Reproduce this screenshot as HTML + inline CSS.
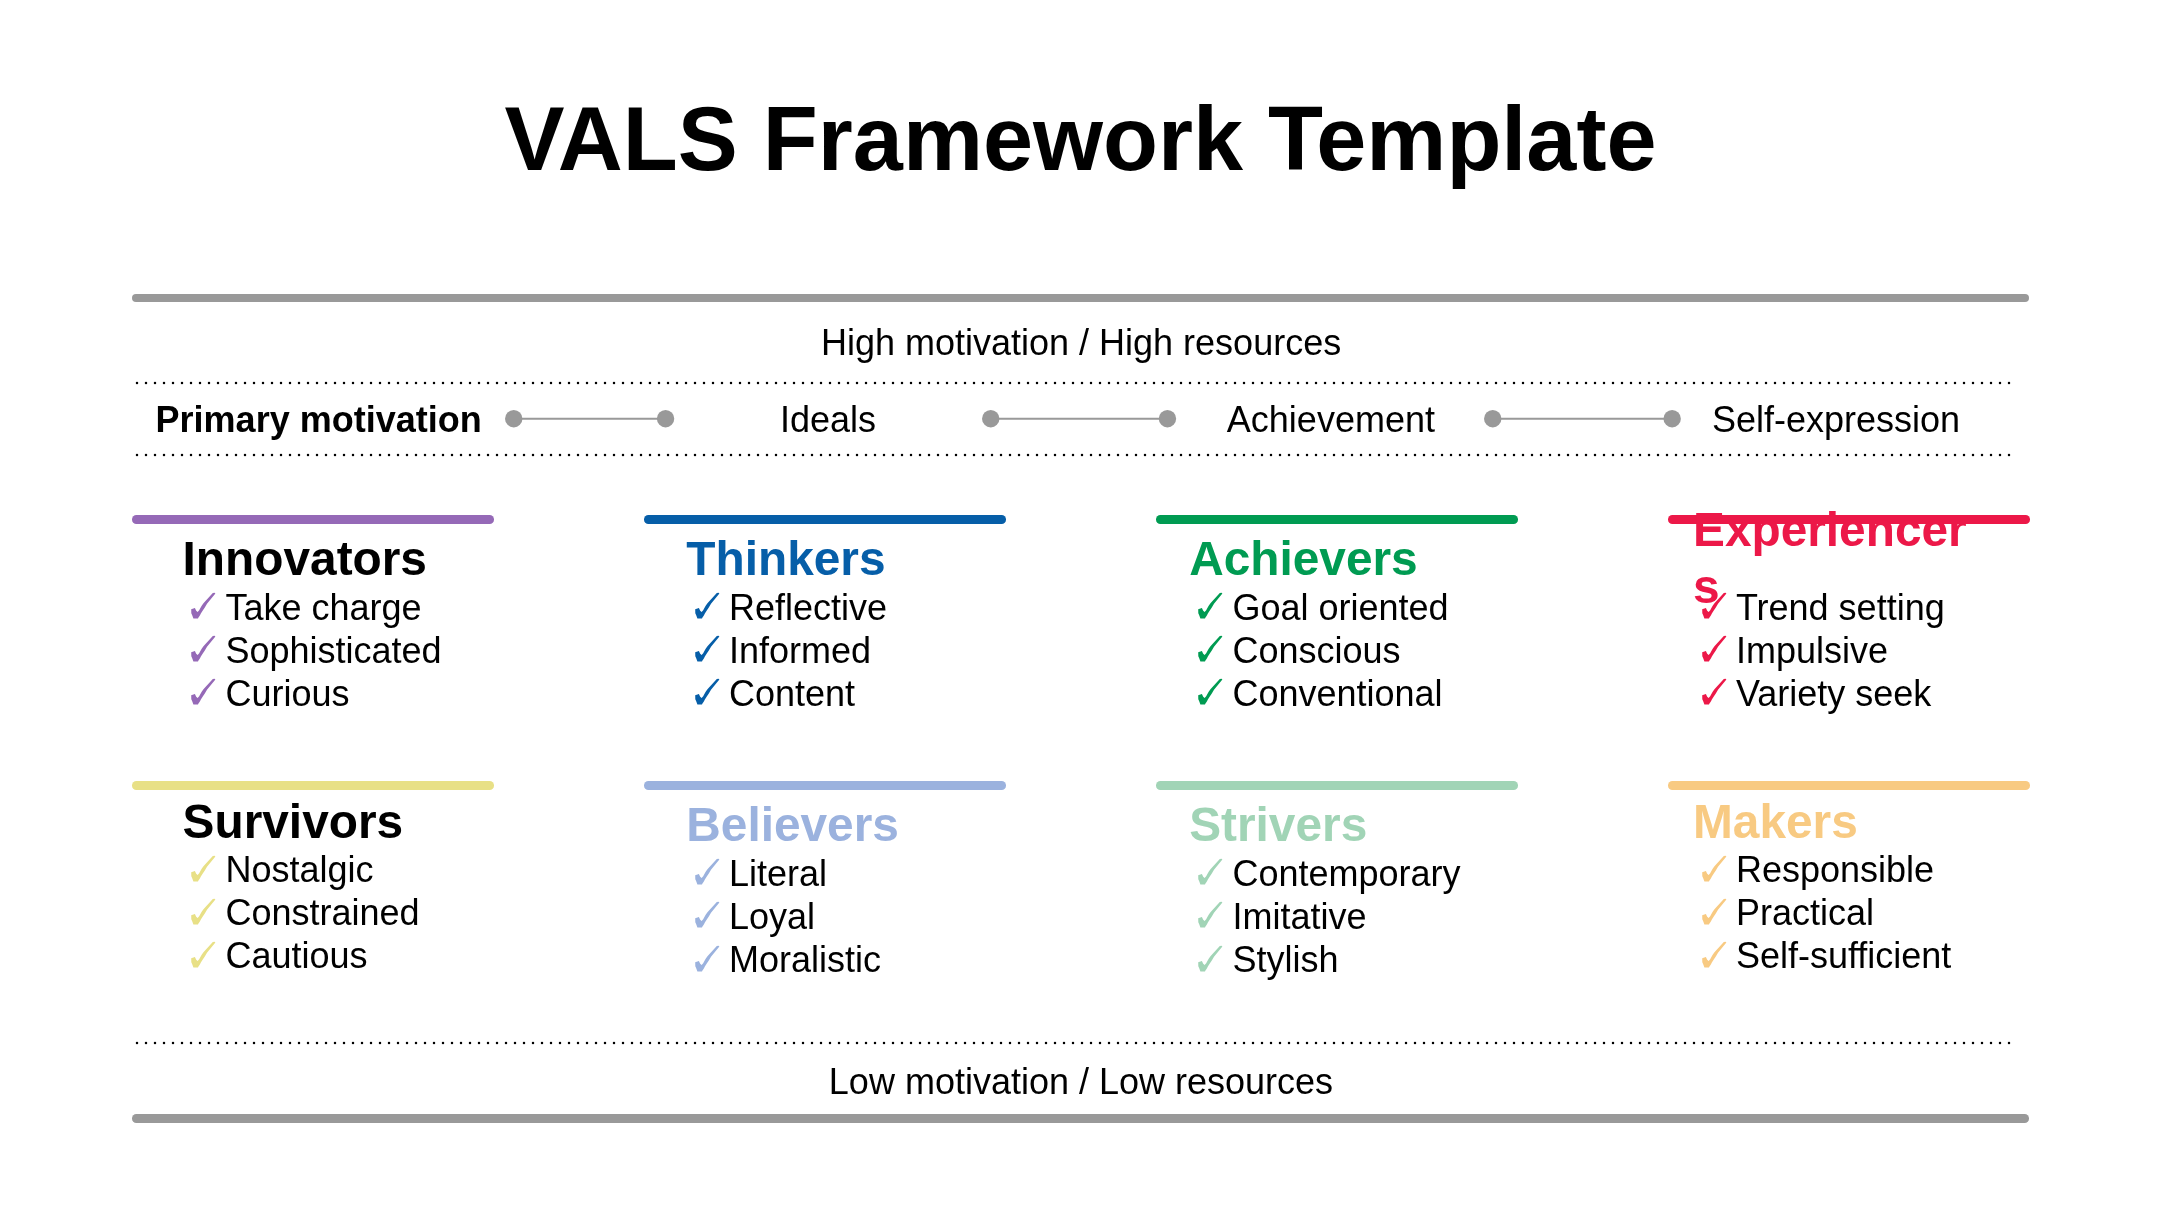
<!DOCTYPE html>
<html><head><meta charset="utf-8"><title>VALS Framework Template</title>
<style>
html,body{margin:0;padding:0;background:#fff;}
body{width:2160px;height:1215px;position:relative;overflow:hidden;font-family:"Liberation Sans",sans-serif;}
#wrap{position:absolute;left:0;top:0;width:2160px;height:1215px;will-change:transform;}
.t{position:absolute;white-space:nowrap;}
.bar,.abs{position:absolute;}
svg.abs{overflow:visible;}
</style></head><body><div id="wrap">
<div class="t" style="left:504.48px;top:94px;font-size:90px;line-height:90px;font-weight:700;color:#000">VALS Framework Template</div>
<div class="bar" style="left:132.00px;top:293.60px;width:1897.00px;height:8.6px;border-radius:4.3px;background:#999999"></div>
<div class="t" style="left:820.95px;top:325px;font-size:36px;line-height:36px;font-weight:400;color:#000">High motivation / High resources</div>
<svg class="abs" style="left:132.40px;top:377.67px" width="1891.0" height="10" viewBox="0 0 1891.0 10"><line x1="5" y1="5" x2="1886.00" y2="5" stroke="#000" stroke-width="2.5" stroke-linecap="round" stroke-dasharray="0 9.0"/></svg>
<div class="t" style="left:155.59px;top:402px;font-size:36px;line-height:36px;font-weight:700;color:#000">Primary motivation</div>
<svg class="abs" style="left:503.70px;top:409.05px" width="171.30" height="19.40" viewBox="0 0 171.30 19.40"><line x1="9.7" y1="9.7" x2="161.60" y2="9.7" stroke="#999" stroke-width="1.9"/><circle cx="9.7" cy="9.7" r="8.7" fill="#999"/><circle cx="161.60" cy="9.7" r="8.7" fill="#999"/></svg>
<div class="t" style="left:779.88px;top:402px;font-size:36px;line-height:36px;font-weight:400;color:#000">Ideals</div>
<svg class="abs" style="left:981.20px;top:409.05px" width="196.20" height="19.40" viewBox="0 0 196.20 19.40"><line x1="9.7" y1="9.7" x2="186.50" y2="9.7" stroke="#999" stroke-width="1.9"/><circle cx="9.7" cy="9.7" r="8.7" fill="#999"/><circle cx="186.50" cy="9.7" r="8.7" fill="#999"/></svg>
<div class="t" style="left:1226.83px;top:402px;font-size:36px;line-height:36px;font-weight:400;color:#000">Achievement</div>
<svg class="abs" style="left:1483.40px;top:409.05px" width="198.90" height="19.40" viewBox="0 0 198.90 19.40"><line x1="9.7" y1="9.7" x2="189.20" y2="9.7" stroke="#999" stroke-width="1.9"/><circle cx="9.7" cy="9.7" r="8.7" fill="#999"/><circle cx="189.20" cy="9.7" r="8.7" fill="#999"/></svg>
<div class="t" style="left:1711.97px;top:402px;font-size:36px;line-height:36px;font-weight:400;color:#000">Self-expression</div>
<svg class="abs" style="left:132.40px;top:449.80px" width="1891.0" height="10" viewBox="0 0 1891.0 10"><line x1="5" y1="5" x2="1886.00" y2="5" stroke="#000" stroke-width="2.5" stroke-linecap="round" stroke-dasharray="0 9.0"/></svg>
<div class="bar" style="left:132.00px;top:514.90px;width:362.00px;height:8.7px;border-radius:4.35px;background:#9569B7"></div>
<div class="t" style="left:182.60px;top:535px;font-size:47.8px;line-height:47.8px;font-weight:700;color:#000">Innovators</div>
<svg class="abs" style="left:186.20px;top:590.05px" width="32" height="32" viewBox="0 0 32 32"><polygon points="5.2,19.25 8.9,18.1 10.2,20.8 11.6,22.0 13.2,20.2 14.1,18.5 15.85,15.6 17.45,13.2 26.8,3.0 28.6,2.7 29.4,3.5 21.0,13.75 18.8,17.4 16.95,20.25 15.0,23.15 13.85,25.45 12.3,27.75 12.0,28.55 7.4,28.55 6.3,25.45 5.3,23.15" fill="#9569B7"/></svg>
<div class="t" style="left:225.50px;top:590px;font-size:36px;line-height:36px;font-weight:400;color:#000">Take charge</div>
<svg class="abs" style="left:186.20px;top:633.15px" width="32" height="32" viewBox="0 0 32 32"><polygon points="5.2,19.25 8.9,18.1 10.2,20.8 11.6,22.0 13.2,20.2 14.1,18.5 15.85,15.6 17.45,13.2 26.8,3.0 28.6,2.7 29.4,3.5 21.0,13.75 18.8,17.4 16.95,20.25 15.0,23.15 13.85,25.45 12.3,27.75 12.0,28.55 7.4,28.55 6.3,25.45 5.3,23.15" fill="#9569B7"/></svg>
<div class="t" style="left:225.50px;top:633px;font-size:36px;line-height:36px;font-weight:400;color:#000">Sophisticated</div>
<svg class="abs" style="left:186.20px;top:676.25px" width="32" height="32" viewBox="0 0 32 32"><polygon points="5.2,19.25 8.9,18.1 10.2,20.8 11.6,22.0 13.2,20.2 14.1,18.5 15.85,15.6 17.45,13.2 26.8,3.0 28.6,2.7 29.4,3.5 21.0,13.75 18.8,17.4 16.95,20.25 15.0,23.15 13.85,25.45 12.3,27.75 12.0,28.55 7.4,28.55 6.3,25.45 5.3,23.15" fill="#9569B7"/></svg>
<div class="t" style="left:225.50px;top:676px;font-size:36px;line-height:36px;font-weight:400;color:#000">Curious</div>
<div class="bar" style="left:644.00px;top:514.90px;width:362.00px;height:8.7px;border-radius:4.35px;background:#065EA8"></div>
<div class="t" style="left:686.30px;top:535px;font-size:47.8px;line-height:47.8px;font-weight:700;color:#065EA8">Thinkers</div>
<svg class="abs" style="left:689.67px;top:590.05px" width="32" height="32" viewBox="0 0 32 32"><polygon points="5.2,19.25 8.9,18.1 10.2,20.8 11.6,22.0 13.2,20.2 14.1,18.5 15.85,15.6 17.45,13.2 26.8,3.0 28.6,2.7 29.4,3.5 21.0,13.75 18.8,17.4 16.95,20.25 15.0,23.15 13.85,25.45 12.3,27.75 12.0,28.55 7.4,28.55 6.3,25.45 5.3,23.15" fill="#065EA8"/></svg>
<div class="t" style="left:728.97px;top:590px;font-size:36px;line-height:36px;font-weight:400;color:#000">Reflective</div>
<svg class="abs" style="left:689.67px;top:633.15px" width="32" height="32" viewBox="0 0 32 32"><polygon points="5.2,19.25 8.9,18.1 10.2,20.8 11.6,22.0 13.2,20.2 14.1,18.5 15.85,15.6 17.45,13.2 26.8,3.0 28.6,2.7 29.4,3.5 21.0,13.75 18.8,17.4 16.95,20.25 15.0,23.15 13.85,25.45 12.3,27.75 12.0,28.55 7.4,28.55 6.3,25.45 5.3,23.15" fill="#065EA8"/></svg>
<div class="t" style="left:728.97px;top:633px;font-size:36px;line-height:36px;font-weight:400;color:#000">Informed</div>
<svg class="abs" style="left:689.67px;top:676.25px" width="32" height="32" viewBox="0 0 32 32"><polygon points="5.2,19.25 8.9,18.1 10.2,20.8 11.6,22.0 13.2,20.2 14.1,18.5 15.85,15.6 17.45,13.2 26.8,3.0 28.6,2.7 29.4,3.5 21.0,13.75 18.8,17.4 16.95,20.25 15.0,23.15 13.85,25.45 12.3,27.75 12.0,28.55 7.4,28.55 6.3,25.45 5.3,23.15" fill="#065EA8"/></svg>
<div class="t" style="left:728.97px;top:676px;font-size:36px;line-height:36px;font-weight:400;color:#000">Content</div>
<div class="bar" style="left:1156.00px;top:514.90px;width:362.00px;height:8.7px;border-radius:4.35px;background:#009B52"></div>
<div class="t" style="left:1189.20px;top:535px;font-size:47.8px;line-height:47.8px;font-weight:700;color:#009B52">Achievers</div>
<svg class="abs" style="left:1193.14px;top:590.05px" width="32" height="32" viewBox="0 0 32 32"><polygon points="5.2,19.25 8.9,18.1 10.2,20.8 11.6,22.0 13.2,20.2 14.1,18.5 15.85,15.6 17.45,13.2 26.8,3.0 28.6,2.7 29.4,3.5 21.0,13.75 18.8,17.4 16.95,20.25 15.0,23.15 13.85,25.45 12.3,27.75 12.0,28.55 7.4,28.55 6.3,25.45 5.3,23.15" fill="#009B52"/></svg>
<div class="t" style="left:1232.44px;top:590px;font-size:36px;line-height:36px;font-weight:400;color:#000">Goal oriented</div>
<svg class="abs" style="left:1193.14px;top:633.15px" width="32" height="32" viewBox="0 0 32 32"><polygon points="5.2,19.25 8.9,18.1 10.2,20.8 11.6,22.0 13.2,20.2 14.1,18.5 15.85,15.6 17.45,13.2 26.8,3.0 28.6,2.7 29.4,3.5 21.0,13.75 18.8,17.4 16.95,20.25 15.0,23.15 13.85,25.45 12.3,27.75 12.0,28.55 7.4,28.55 6.3,25.45 5.3,23.15" fill="#009B52"/></svg>
<div class="t" style="left:1232.44px;top:633px;font-size:36px;line-height:36px;font-weight:400;color:#000">Conscious</div>
<svg class="abs" style="left:1193.14px;top:676.25px" width="32" height="32" viewBox="0 0 32 32"><polygon points="5.2,19.25 8.9,18.1 10.2,20.8 11.6,22.0 13.2,20.2 14.1,18.5 15.85,15.6 17.45,13.2 26.8,3.0 28.6,2.7 29.4,3.5 21.0,13.75 18.8,17.4 16.95,20.25 15.0,23.15 13.85,25.45 12.3,27.75 12.0,28.55 7.4,28.55 6.3,25.45 5.3,23.15" fill="#009B52"/></svg>
<div class="t" style="left:1232.44px;top:676px;font-size:36px;line-height:36px;font-weight:400;color:#000">Conventional</div>
<div class="bar" style="left:1668.00px;top:514.90px;width:362.00px;height:8.7px;border-radius:4.35px;background:#EC1848"></div>
<div class="t" style="left:1693.00px;top:506px;font-size:47.8px;line-height:47.8px;font-weight:700;color:#EC1848">Experiencer</div>
<div class="t" style="left:1693.00px;top:563px;font-size:47.8px;line-height:47.8px;font-weight:700;color:#EC1848">s</div>
<svg class="abs" style="left:1696.61px;top:590.05px" width="32" height="32" viewBox="0 0 32 32"><polygon points="5.2,19.25 8.9,18.1 10.2,20.8 11.6,22.0 13.2,20.2 14.1,18.5 15.85,15.6 17.45,13.2 26.8,3.0 28.6,2.7 29.4,3.5 21.0,13.75 18.8,17.4 16.95,20.25 15.0,23.15 13.85,25.45 12.3,27.75 12.0,28.55 7.4,28.55 6.3,25.45 5.3,23.15" fill="#EC1848"/></svg>
<div class="t" style="left:1735.91px;top:590px;font-size:36px;line-height:36px;font-weight:400;color:#000">Trend setting</div>
<svg class="abs" style="left:1696.61px;top:633.15px" width="32" height="32" viewBox="0 0 32 32"><polygon points="5.2,19.25 8.9,18.1 10.2,20.8 11.6,22.0 13.2,20.2 14.1,18.5 15.85,15.6 17.45,13.2 26.8,3.0 28.6,2.7 29.4,3.5 21.0,13.75 18.8,17.4 16.95,20.25 15.0,23.15 13.85,25.45 12.3,27.75 12.0,28.55 7.4,28.55 6.3,25.45 5.3,23.15" fill="#EC1848"/></svg>
<div class="t" style="left:1735.91px;top:633px;font-size:36px;line-height:36px;font-weight:400;color:#000">Impulsive</div>
<svg class="abs" style="left:1696.61px;top:676.25px" width="32" height="32" viewBox="0 0 32 32"><polygon points="5.2,19.25 8.9,18.1 10.2,20.8 11.6,22.0 13.2,20.2 14.1,18.5 15.85,15.6 17.45,13.2 26.8,3.0 28.6,2.7 29.4,3.5 21.0,13.75 18.8,17.4 16.95,20.25 15.0,23.15 13.85,25.45 12.3,27.75 12.0,28.55 7.4,28.55 6.3,25.45 5.3,23.15" fill="#EC1848"/></svg>
<div class="t" style="left:1735.91px;top:676px;font-size:36px;line-height:36px;font-weight:400;color:#000">Variety seek</div>
<div class="bar" style="left:132.00px;top:781.05px;width:362.00px;height:8.7px;border-radius:4.35px;background:#E8E086"></div>
<div class="t" style="left:182.60px;top:798px;font-size:47.8px;line-height:47.8px;font-weight:700;color:#000">Survivors</div>
<svg class="abs" style="left:186.20px;top:852.65px" width="32" height="32" viewBox="0 0 32 32"><polygon points="5.2,19.25 8.9,18.1 10.2,20.8 11.6,22.0 13.2,20.2 14.1,18.5 15.85,15.6 17.45,13.2 26.8,3.0 28.6,2.7 29.4,3.5 21.0,13.75 18.8,17.4 16.95,20.25 15.0,23.15 13.85,25.45 12.3,27.75 12.0,28.55 7.4,28.55 6.3,25.45 5.3,23.15" fill="#E8E086"/></svg>
<div class="t" style="left:225.50px;top:852px;font-size:36px;line-height:36px;font-weight:400;color:#000">Nostalgic</div>
<svg class="abs" style="left:186.20px;top:895.85px" width="32" height="32" viewBox="0 0 32 32"><polygon points="5.2,19.25 8.9,18.1 10.2,20.8 11.6,22.0 13.2,20.2 14.1,18.5 15.85,15.6 17.45,13.2 26.8,3.0 28.6,2.7 29.4,3.5 21.0,13.75 18.8,17.4 16.95,20.25 15.0,23.15 13.85,25.45 12.3,27.75 12.0,28.55 7.4,28.55 6.3,25.45 5.3,23.15" fill="#E8E086"/></svg>
<div class="t" style="left:225.50px;top:895px;font-size:36px;line-height:36px;font-weight:400;color:#000">Constrained</div>
<svg class="abs" style="left:186.20px;top:939.05px" width="32" height="32" viewBox="0 0 32 32"><polygon points="5.2,19.25 8.9,18.1 10.2,20.8 11.6,22.0 13.2,20.2 14.1,18.5 15.85,15.6 17.45,13.2 26.8,3.0 28.6,2.7 29.4,3.5 21.0,13.75 18.8,17.4 16.95,20.25 15.0,23.15 13.85,25.45 12.3,27.75 12.0,28.55 7.4,28.55 6.3,25.45 5.3,23.15" fill="#E8E086"/></svg>
<div class="t" style="left:225.50px;top:938px;font-size:36px;line-height:36px;font-weight:400;color:#000">Cautious</div>
<div class="bar" style="left:644.00px;top:781.05px;width:362.00px;height:8.7px;border-radius:4.35px;background:#9BB2DE"></div>
<div class="t" style="left:686.30px;top:801px;font-size:47.8px;line-height:47.8px;font-weight:700;color:#9BB2DE">Believers</div>
<svg class="abs" style="left:689.67px;top:856.25px" width="32" height="32" viewBox="0 0 32 32"><polygon points="5.2,19.25 8.9,18.1 10.2,20.8 11.6,22.0 13.2,20.2 14.1,18.5 15.85,15.6 17.45,13.2 26.8,3.0 28.6,2.7 29.4,3.5 21.0,13.75 18.8,17.4 16.95,20.25 15.0,23.15 13.85,25.45 12.3,27.75 12.0,28.55 7.4,28.55 6.3,25.45 5.3,23.15" fill="#9BB2DE"/></svg>
<div class="t" style="left:728.97px;top:856px;font-size:36px;line-height:36px;font-weight:400;color:#000">Literal</div>
<svg class="abs" style="left:689.67px;top:899.45px" width="32" height="32" viewBox="0 0 32 32"><polygon points="5.2,19.25 8.9,18.1 10.2,20.8 11.6,22.0 13.2,20.2 14.1,18.5 15.85,15.6 17.45,13.2 26.8,3.0 28.6,2.7 29.4,3.5 21.0,13.75 18.8,17.4 16.95,20.25 15.0,23.15 13.85,25.45 12.3,27.75 12.0,28.55 7.4,28.55 6.3,25.45 5.3,23.15" fill="#9BB2DE"/></svg>
<div class="t" style="left:728.97px;top:899px;font-size:36px;line-height:36px;font-weight:400;color:#000">Loyal</div>
<svg class="abs" style="left:689.67px;top:942.65px" width="32" height="32" viewBox="0 0 32 32"><polygon points="5.2,19.25 8.9,18.1 10.2,20.8 11.6,22.0 13.2,20.2 14.1,18.5 15.85,15.6 17.45,13.2 26.8,3.0 28.6,2.7 29.4,3.5 21.0,13.75 18.8,17.4 16.95,20.25 15.0,23.15 13.85,25.45 12.3,27.75 12.0,28.55 7.4,28.55 6.3,25.45 5.3,23.15" fill="#9BB2DE"/></svg>
<div class="t" style="left:728.97px;top:942px;font-size:36px;line-height:36px;font-weight:400;color:#000">Moralistic</div>
<div class="bar" style="left:1156.00px;top:781.05px;width:362.00px;height:8.7px;border-radius:4.35px;background:#A1D4B6"></div>
<div class="t" style="left:1189.20px;top:801px;font-size:47.8px;line-height:47.8px;font-weight:700;color:#A1D4B6">Strivers</div>
<svg class="abs" style="left:1193.14px;top:856.25px" width="32" height="32" viewBox="0 0 32 32"><polygon points="5.2,19.25 8.9,18.1 10.2,20.8 11.6,22.0 13.2,20.2 14.1,18.5 15.85,15.6 17.45,13.2 26.8,3.0 28.6,2.7 29.4,3.5 21.0,13.75 18.8,17.4 16.95,20.25 15.0,23.15 13.85,25.45 12.3,27.75 12.0,28.55 7.4,28.55 6.3,25.45 5.3,23.15" fill="#A1D4B6"/></svg>
<div class="t" style="left:1232.44px;top:856px;font-size:36px;line-height:36px;font-weight:400;color:#000">Contemporary</div>
<svg class="abs" style="left:1193.14px;top:899.45px" width="32" height="32" viewBox="0 0 32 32"><polygon points="5.2,19.25 8.9,18.1 10.2,20.8 11.6,22.0 13.2,20.2 14.1,18.5 15.85,15.6 17.45,13.2 26.8,3.0 28.6,2.7 29.4,3.5 21.0,13.75 18.8,17.4 16.95,20.25 15.0,23.15 13.85,25.45 12.3,27.75 12.0,28.55 7.4,28.55 6.3,25.45 5.3,23.15" fill="#A1D4B6"/></svg>
<div class="t" style="left:1232.44px;top:899px;font-size:36px;line-height:36px;font-weight:400;color:#000">Imitative</div>
<svg class="abs" style="left:1193.14px;top:942.65px" width="32" height="32" viewBox="0 0 32 32"><polygon points="5.2,19.25 8.9,18.1 10.2,20.8 11.6,22.0 13.2,20.2 14.1,18.5 15.85,15.6 17.45,13.2 26.8,3.0 28.6,2.7 29.4,3.5 21.0,13.75 18.8,17.4 16.95,20.25 15.0,23.15 13.85,25.45 12.3,27.75 12.0,28.55 7.4,28.55 6.3,25.45 5.3,23.15" fill="#A1D4B6"/></svg>
<div class="t" style="left:1232.44px;top:942px;font-size:36px;line-height:36px;font-weight:400;color:#000">Stylish</div>
<div class="bar" style="left:1668.00px;top:781.05px;width:362.00px;height:8.7px;border-radius:4.35px;background:#F8CA82"></div>
<div class="t" style="left:1693.00px;top:798px;font-size:47.8px;line-height:47.8px;font-weight:700;color:#F8CA82">Makers</div>
<svg class="abs" style="left:1696.61px;top:852.65px" width="32" height="32" viewBox="0 0 32 32"><polygon points="5.2,19.25 8.9,18.1 10.2,20.8 11.6,22.0 13.2,20.2 14.1,18.5 15.85,15.6 17.45,13.2 26.8,3.0 28.6,2.7 29.4,3.5 21.0,13.75 18.8,17.4 16.95,20.25 15.0,23.15 13.85,25.45 12.3,27.75 12.0,28.55 7.4,28.55 6.3,25.45 5.3,23.15" fill="#F8CA82"/></svg>
<div class="t" style="left:1735.91px;top:852px;font-size:36px;line-height:36px;font-weight:400;color:#000">Responsible</div>
<svg class="abs" style="left:1696.61px;top:895.85px" width="32" height="32" viewBox="0 0 32 32"><polygon points="5.2,19.25 8.9,18.1 10.2,20.8 11.6,22.0 13.2,20.2 14.1,18.5 15.85,15.6 17.45,13.2 26.8,3.0 28.6,2.7 29.4,3.5 21.0,13.75 18.8,17.4 16.95,20.25 15.0,23.15 13.85,25.45 12.3,27.75 12.0,28.55 7.4,28.55 6.3,25.45 5.3,23.15" fill="#F8CA82"/></svg>
<div class="t" style="left:1735.91px;top:895px;font-size:36px;line-height:36px;font-weight:400;color:#000">Practical</div>
<svg class="abs" style="left:1696.61px;top:939.05px" width="32" height="32" viewBox="0 0 32 32"><polygon points="5.2,19.25 8.9,18.1 10.2,20.8 11.6,22.0 13.2,20.2 14.1,18.5 15.85,15.6 17.45,13.2 26.8,3.0 28.6,2.7 29.4,3.5 21.0,13.75 18.8,17.4 16.95,20.25 15.0,23.15 13.85,25.45 12.3,27.75 12.0,28.55 7.4,28.55 6.3,25.45 5.3,23.15" fill="#F8CA82"/></svg>
<div class="t" style="left:1735.91px;top:938px;font-size:36px;line-height:36px;font-weight:400;color:#000">Self-sufficient</div>
<svg class="abs" style="left:132.40px;top:1038.30px" width="1891.0" height="10" viewBox="0 0 1891.0 10"><line x1="5" y1="5" x2="1886.00" y2="5" stroke="#000" stroke-width="2.5" stroke-linecap="round" stroke-dasharray="0 9.0"/></svg>
<div class="t" style="left:828.85px;top:1064px;font-size:36px;line-height:36px;font-weight:400;color:#000">Low motivation / Low resources</div>
<div class="bar" style="left:132.00px;top:1114.10px;width:1897.00px;height:8.6px;border-radius:4.3px;background:#999999"></div>
</div></body></html>
